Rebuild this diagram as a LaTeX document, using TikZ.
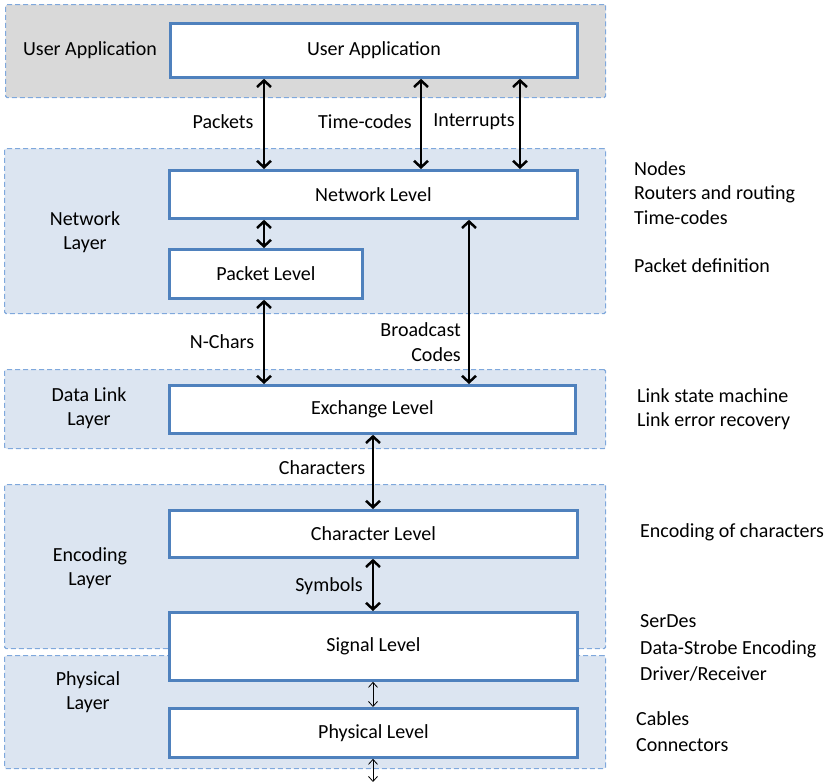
\documentclass[tikz,border=0pt]{standalone}
\usepackage{fontspec}
\setmainfont{Carlito}
\usetikzlibrary{arrows.meta}
\definecolor{bandblue}{HTML}{DCE5F1}
\definecolor{bandgray}{HTML}{D9D9D9}
\definecolor{dashblue}{HTML}{7FA8DC}
\definecolor{boxblue}{HTML}{4F81BD}
\begin{document}
\begin{tikzpicture}[x={(1pt,0)},y={(0,-1pt)},
  font=\fontsize{20}{24.5}\selectfont,
  band/.style={draw=dashblue,dashed,dash pattern=on 5pt off 3pt,line width=1.2pt,
    rounded corners=1.5pt,inner sep=0pt,anchor=north west},
  level/.style={draw=boxblue,fill=white,line width=2.8pt,inner sep=0pt,anchor=north west},
  lbl/.style={inner sep=0pt,align=center},
  note/.style={inner sep=0pt,align=left,anchor=west},
  bigarr/.style={line width=2.5pt,{Straight Barb[length=6.5pt,width=14pt]}-{Straight Barb[length=6.5pt,width=14pt]}},
  thinarr/.style={line width=0.8pt,{Straight Barb[length=5pt,width=9pt]}-{Straight Barb[length=5pt,width=9pt]}}]
\useasboundingbox (0,0) rectangle (828,782);

% layer bands
\node[band,fill=bandgray,minimum width=600pt,minimum height=93pt] (bua) at (5,4) {};
\node[band,fill=bandblue,minimum width=601pt,minimum height=165pt] (bnet) at (4,148) {};
\node[band,fill=bandblue,minimum width=601pt,minimum height=79pt] (bdl) at (4,369) {};
\node[band,fill=bandblue,minimum width=601pt,minimum height=164pt] (benc) at (4,484) {};
\node[band,fill=bandblue,minimum width=601pt,minimum height=113pt] (bphy) at (4,655) {};

% layer names
\node[lbl] (tua) at (90,50) {User Application};
\node[lbl] (tnet) at (85,232) {Network\\Layer};
\node[lbl] (tdl) at (89,408) {Data Link\\Layer};
\node[lbl] (tenc) at (90,568) {Encoding\\Layer};
\node[lbl] (tphy) at (88,692) {Physical\\Layer};

% levels
\node[level,minimum width=407pt,minimum height=54pt] (ua) at (169,22) {};
\node at (ua.center) {User Application};
\node[level,minimum width=408pt,minimum height=48pt] (nl) at (168,169) {};
\node at (nl.center) {Network Level};
\node[level,minimum width=193pt,minimum height=49pt] (pl) at (168,248) {};
\node at (pl.center) {Packet Level};
\node[level,minimum width=406pt,minimum height=48pt] (el) at (168,384) {};
\node at (el.center) {Exchange Level};
\node[level,minimum width=408pt,minimum height=47pt] (cl) at (168,509) {};
\node at (cl.center) {Character Level};
\node[level,minimum width=408pt,minimum height=68pt] (sl) at (168,611) {};
\node at (sl.center) {Signal Level};
\node[level,minimum width=408pt,minimum height=49pt] (phl) at (168,707) {};
\node at (phl.center) {Physical Level};

% arrow columns
\coordinate (xa) at (264,0);
\coordinate (xb) at (421,0);
\coordinate (xc) at (520,0);
\coordinate (xd) at (469,0);
\coordinate (xe) at (373,0);
\coordinate (bot) at (373,782);

\draw[bigarr] (ua.south -| xa) -- (nl.north -| xa);
\draw[bigarr] (ua.south -| xb) -- (nl.north -| xb);
\draw[bigarr] (ua.south -| xc) -- (nl.north -| xc);
\draw[bigarr] (nl.south -| xa) -- (pl.north -| xa);
\draw[bigarr] (pl.south -| xa) -- (el.north -| xa);
\draw[bigarr] (nl.south -| xd) -- (el.north -| xd);
\draw[bigarr] (el.south -| xe) -- (cl.north -| xe);
\draw[bigarr] (cl.south -| xe) -- (sl.north -| xe);
\draw[thinarr] (sl.south -| xe) -- (phl.north -| xe);
\draw[thinarr] (phl.south -| xe) -- (bot);

% connector labels
\node[lbl] (lpk) at (223,122) {Packets};
\node[lbl] (ltc) at (365,122) {Time-codes};
\node[lbl] (lint) at (474,122) {Interrupts};
\node[lbl] (lnc) at (222,342) {N-Chars};
\node[inner sep=0pt,align=right,anchor=east] (lbc) at (461,342) {Broadcast\\Codes};
\node[lbl] (lch) at (322,468) {Characters};
\node[lbl] (lsy) at (329,586) {Symbols};

% functions of each level
\node[note] (n1) at (634,193) {Nodes\\Routers and routing\\Time-codes};
\node[note] (n2) at (634,266) {Packet definition};
\node[note] (n3) at (637,409) {Link state machine\\Link error recovery};
\node[note] (n4) at (640,532) {Encoding of characters};
\node[note,font=\fontsize{20}{26.5}\selectfont] (n5) at (640,648) {SerDes\\Data-Strobe Encoding\\Driver/Receiver};
\node[note,font=\fontsize{20}{26}\selectfont] (n6) at (636,732) {Cables\\Connectors};
\end{tikzpicture}
\end{document}
